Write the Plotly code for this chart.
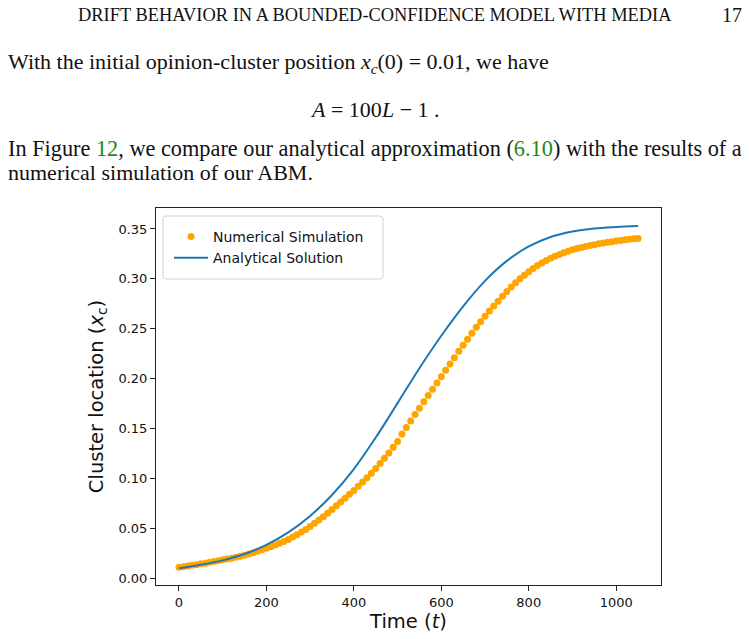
import plotly.graph_objects as go

# ---- data ----
sim_t = list(range(0, 1051, 10))
sim_x = [
    0.0110, 0.0116, 0.0123, 0.0130, 0.0137, 0.0145, 0.0152, 0.0160, 0.0168, 0.0176,
    0.0185, 0.0193, 0.0202, 0.0211, 0.0220, 0.0230, 0.0243, 0.0256, 0.0270, 0.0285,
    0.0300, 0.0316, 0.0333, 0.0351, 0.0370, 0.0390, 0.0413, 0.0437, 0.0463, 0.0490,
    0.0520, 0.0551, 0.0584, 0.0618, 0.0653, 0.0690, 0.0727, 0.0764, 0.0802, 0.0841,
    0.0880, 0.0922, 0.0964, 0.1008, 0.1053, 0.1100, 0.1150, 0.1202, 0.1256, 0.1312,
    0.1370, 0.1445, 0.1510, 0.1575, 0.1640, 0.1705, 0.1768, 0.1832, 0.1895, 0.1958,
    0.2020, 0.2085, 0.2148, 0.2210, 0.2275, 0.2335, 0.2395, 0.2455, 0.2515, 0.2570,
    0.2625, 0.2677, 0.2728, 0.2777, 0.2826, 0.2873, 0.2918, 0.2960, 0.3000, 0.3037,
    0.3072, 0.3104, 0.3133, 0.3160, 0.3185, 0.3207, 0.3227, 0.3245, 0.3262, 0.3277,
    0.3291, 0.3303, 0.3314, 0.3324, 0.3334, 0.3343, 0.3351, 0.3359, 0.3366, 0.3373,
    0.3379, 0.3385, 0.3391, 0.3396, 0.3401, 0.3405,
]
ana_t = list(range(0, 1051, 50))
ana_x = [
    0.0100, 0.0135, 0.0180, 0.0243, 0.0335, 0.0460, 0.0625, 0.0835, 0.1095, 0.1410,
    0.1755, 0.2105, 0.2430, 0.2725, 0.2980, 0.3180, 0.3325, 0.3420, 0.3475, 0.3505,
    0.3520, 0.3530,
]
x_ticks = [0, 200, 400, 600, 800, 1000]
y_ticks = [0.00, 0.05, 0.10, 0.15, 0.20, 0.25, 0.30, 0.35]

W, H = 750, 639
L, R, T, B = 156, 661, 208, 585


def px(x):
    return (x - L) / (R - L)


def py(y):
    return (B - y) / (B - T)


fig = go.Figure()
fig.add_trace(go.Scatter(
    x=sim_t, y=sim_x, mode="markers", name="Numerical Simulation",
    marker=dict(color="#FFA500", size=7, line=dict(width=0)),
))
fig.add_trace(go.Scatter(
    x=ana_t, y=ana_x, mode="lines", name="Analytical Solution",
    line=dict(color="#1f77b4", width=2, shape="spline", smoothing=1.0),
))

axis_common = dict(
    showgrid=False, zeroline=False, showline=True, mirror=True,
    linecolor="#222", linewidth=1, ticks="outside", ticklen=5,
    tickcolor="#222", tickwidth=1,
    tickfont=dict(family="DejaVu Sans", size=13, color="#111"),
)
fig.update_xaxes(
    range=[-52.5, 1102.5], tickvals=x_ticks, **axis_common,
    title=dict(text="Time (<i>t</i>)", standoff=3,
               font=dict(family="DejaVu Sans", size=19.5, color="#111")),
)
fig.update_yaxes(
    range=[-0.0067, 0.371], tickvals=y_ticks, tickformat=".2f", **axis_common,
    title=dict(text="Cluster location (<i>x</i><sub>c</sub>)", standoff=9,
               font=dict(family="DejaVu Sans", size=19.5, color="#111")),
)

serif = "Liberation Serif"
green = "#1a8a1a"
annots = [
    dict(text="DRIFT BEHAVIOR IN A BOUNDED-CONFIDENCE MODEL WITH MEDIA",
         x=px(76), y=py(15), xanchor="left", size=18.4),
    dict(text="17", x=px(744), y=py(15), xanchor="right", size=20),
    dict(text="With the initial opinion-cluster position <i>x<sub>c</sub></i>(0) = 0.01, we have",
         x=px(6), y=py(63), xanchor="left", size=22),
    dict(text="<i>A</i> = 100<i>L</i> − 1 .", x=px(375), y=py(110), xanchor="center", size=22),
    dict(text=("In Figure <span style='color:%s'>12</span>, we compare our analytical approximation "
               "(<span style='color:%s'>6.10</span>) with the results of a") % (green, green),
         x=px(6), y=py(148), xanchor="left", size=22.3),
    dict(text="numerical simulation of our ABM.", x=px(6), y=py(172), xanchor="left", size=22),
]
for a in annots:
    fig.add_annotation(
        text=a["text"], x=a["x"], y=a["y"], xref="paper", yref="paper",
        xanchor=a["xanchor"], yanchor="middle", showarrow=False,
        font=dict(family=serif, size=a["size"], color="#111"),
    )

# legend frame (rounded rectangle, like matplotlib's)
x0, x1, y0, y1, r = 163, 383, 216, 279, 3
rx, ry = r / (R - L), r / (B - T)
X0, X1, Y0, Y1 = px(x0), px(x1), py(y1), py(y0)
path = (f"M {X0+rx},{Y0} L {X1-rx},{Y0} Q {X1},{Y0} {X1},{Y0+ry} "
        f"L {X1},{Y1-ry} Q {X1},{Y1} {X1-rx},{Y1} L {X0+rx},{Y1} "
        f"Q {X0},{Y1} {X0},{Y1-ry} L {X0},{Y0+ry} Q {X0},{Y0} {X0+rx},{Y0} Z")
fig.add_shape(type="path", path=path, xref="paper", yref="paper",
              line=dict(color="#d3d3d3", width=1), fillcolor="white", layer="above")

fig.update_layout(
    width=W, height=H, autosize=False,
    margin=dict(l=L, r=W - R, t=T, b=H - B, pad=0),
    paper_bgcolor="white", plot_bgcolor="white",
    legend=dict(
        x=px(169), y=py(221), xanchor="left", yanchor="top",
        bgcolor="rgba(0,0,0,0)", borderwidth=0,
        font=dict(family="DejaVu Sans", size=14, color="#111"),
        itemwidth=34, tracegroupgap=0,
    ),
    showlegend=True,
)

fig.write_html("out.html")
